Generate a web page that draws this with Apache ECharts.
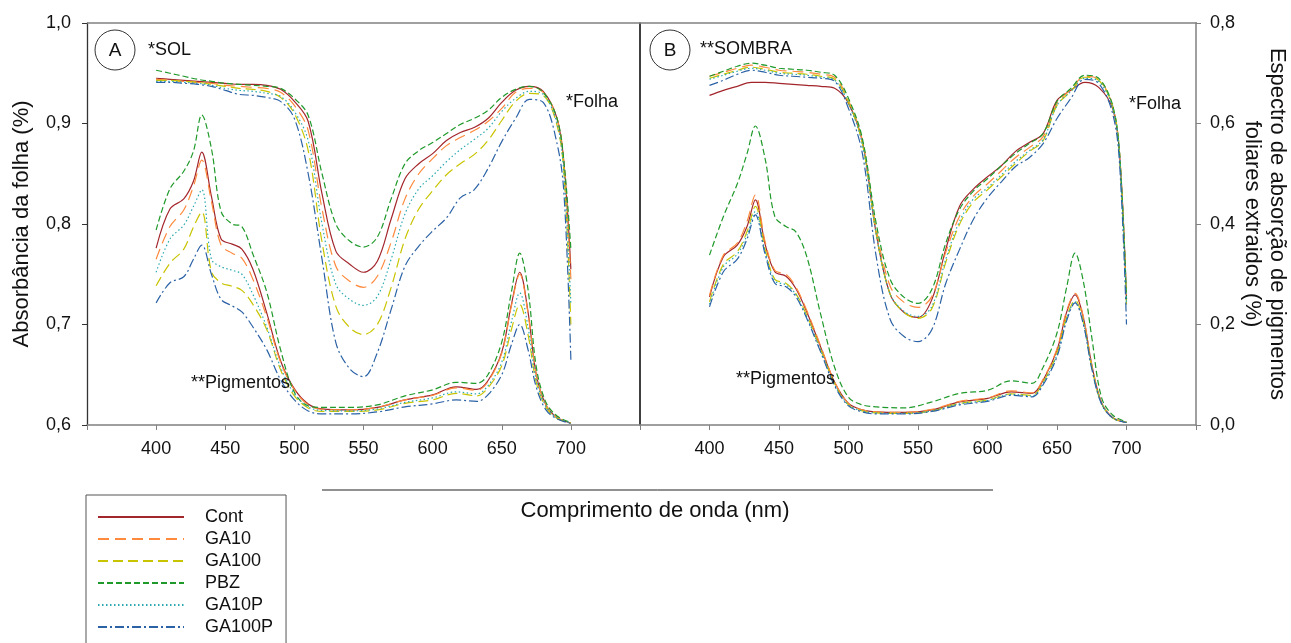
<!DOCTYPE html>
<html>
<head>
<meta charset="utf-8">
<script src="https://cdn.jsdelivr.net/npm/echarts@6/dist/echarts.min.js"></script>
<style>
html,body{margin:0;padding:0;background:#fff;}
#chart{width:1291px;height:643px;}
</style>
</head>
<body>
<div id="chart"></div>
<script>
// ---------- DATA ----------
const names = ['Cont','GA10','GA100','PBZ','GA10P','GA100P'];
const wlLeaf = [400,410,420,430,440,450,460,470,480,490,500,510,520,530,540,550,560,570,580,590,600,610,620,630,640,650,660,670,680,690,695,700];
const wlPig  = [400,410,420,427,433,440,447,455,462,470,480,490,500,510,520,540,560,580,600,617,632,640,650,657,663,669,675,682,690,700];

// Panel A (*SOL) – leaf absorbance (left axis, 0.6–1.0)
const solLeafCont   = [.945,.944,.943,.942,.941,.940,.939,.939,.938,.934,.922,.902,.830,.773,.760,.752,.763,.805,.845,.860,.870,.883,.891,.896,.905,.921,.933,.937,.932,.905,.860,.755];
const solLeafGA10   = [.944,.943,.942,.941,.940,.938,.937,.936,.935,.931,.918,.893,.815,.758,.743,.737,.748,.782,.825,.850,.865,.878,.886,.893,.902,.915,.931,.935,.931,.905,.860,.745];
const solLeafGA100  = [.943,.943,.942,.941,.939,.937,.935,.934,.932,.926,.910,.873,.782,.718,.697,.690,.700,.737,.785,.815,.833,.849,.860,.869,.883,.903,.922,.930,.928,.898,.850,.700];
const solLeafPBZ    = [.953,.950,.947,.944,.942,.940,.939,.938,.937,.935,.925,.908,.850,.800,.783,.777,.787,.825,.860,.873,.881,.890,.899,.905,.913,.926,.934,.937,.931,.905,.862,.775];
const solLeafGA10P  = [.942,.942,.941,.940,.938,.935,.933,.932,.930,.927,.912,.883,.800,.740,.725,.719,.728,.765,.810,.835,.848,.862,.874,.884,.895,.912,.925,.932,.929,.900,.850,.720];
const solLeafGA100P = [.941,.941,.940,.939,.937,.933,.929,.928,.926,.922,.905,.850,.765,.682,.656,.648,.672,.715,.758,.778,.793,.806,.826,.834,.855,.882,.905,.924,.921,.880,.830,.665];

// Panel A (*SOL) – extracted pigments (right axis, 0–0.8)
const solPigCont   = [.352,.430,.450,.485,.543,.455,.370,.360,.350,.310,.223,.128,.072,.042,.032,.030,.035,.050,.060,.076,.071,.088,.145,.240,.304,.225,.100,.040,.015,.004];
const solPigGA10   = [.330,.395,.428,.475,.527,.445,.358,.342,.332,.290,.215,.125,.070,.040,.031,.030,.035,.050,.059,.074,.069,.086,.143,.237,.300,.222,.100,.040,.015,.004];
const solPigGA100  = [.277,.322,.350,.394,.424,.305,.283,.276,.268,.240,.190,.110,.058,.034,.027,.027,.030,.043,.050,.063,.058,.074,.118,.190,.240,.180,.085,.035,.013,.004];
const solPigPBZ    = [.388,.470,.505,.545,.617,.550,.425,.400,.395,.340,.265,.150,.065,.038,.035,.035,.040,.058,.070,.085,.083,.100,.165,.265,.342,.270,.115,.045,.018,.005];
const solPigGA10P  = [.304,.370,.398,.435,.468,.330,.315,.308,.300,.260,.195,.115,.062,.036,.029,.028,.032,.045,.054,.066,.062,.078,.125,.205,.263,.195,.090,.037,.014,.004];
const solPigGA100P = [.243,.283,.295,.330,.358,.300,.250,.237,.225,.195,.150,.090,.050,.028,.022,.022,.026,.036,.042,.050,.047,.060,.100,.160,.200,.150,.075,.030,.012,.003];

// Panel B (**SOMBRA) – leaf absorbance (left axis scale, 0.6–1.0)
const somLeafCont   = [.928,.933,.937,.941,.941,.940,.939,.938,.937,.935,.920,.882,.790,.730,.712,.707,.725,.775,.818,.835,.847,.858,.872,.881,.890,.923,.933,.941,.936,.915,.870,.725];
const somLeafGA10   = [.947,.951,.955,.958,.956,.953,.952,.951,.949,.946,.923,.883,.795,.738,.722,.717,.728,.772,.808,.828,.840,.853,.866,.876,.887,.920,.934,.947,.944,.918,.870,.725];
const somLeafGA100  = [.945,.949,.953,.956,.954,.951,.950,.949,.947,.944,.921,.880,.790,.730,.712,.706,.716,.762,.800,.822,.834,.847,.860,.872,.883,.918,.932,.946,.943,.917,.870,.720];
const somLeafPBZ    = [.947,.952,.957,.960,.958,.955,.954,.953,.951,.948,.925,.885,.800,.745,.727,.721,.735,.781,.815,.833,.845,.858,.870,.880,.890,.922,.935,.948,.945,.918,.870,.725];
const somLeafGA10P  = [.944,.948,.952,.955,.953,.950,.949,.948,.946,.943,.920,.879,.790,.730,.713,.708,.718,.765,.803,.825,.836,.849,.862,.873,.884,.918,.932,.945,.942,.916,.870,.720];
const somLeafGA100P = [.938,.943,.949,.953,.951,.948,.947,.946,.945,.942,.915,.870,.767,.705,.688,.683,.695,.741,.775,.805,.826,.842,.857,.866,.880,.905,.925,.944,.940,.910,.860,.700];

// Panel B (**SOMBRA) – extracted pigments (right axis, 0–0.8)
const somPigCont   = [.255,.335,.358,.395,.448,.360,.305,.296,.272,.225,.155,.085,.043,.030,.026,.025,.030,.046,.053,.066,.063,.089,.149,.225,.259,.213,.120,.045,.015,.005];
const somPigGA10   = [.258,.338,.362,.405,.458,.365,.308,.300,.275,.228,.157,.086,.043,.030,.026,.025,.031,.047,.054,.068,.064,.091,.152,.228,.262,.215,.120,.045,.015,.005];
const somPigGA100  = [.245,.320,.345,.385,.435,.350,.290,.282,.262,.218,.150,.082,.040,.028,.024,.023,.028,.043,.050,.062,.059,.085,.143,.215,.248,.205,.115,.043,.014,.005];
const somPigPBZ    = [.338,.415,.480,.540,.595,.530,.415,.395,.385,.335,.220,.115,.055,.040,.036,.034,.046,.063,.069,.088,.083,.115,.183,.275,.342,.285,.175,.055,.020,.006];
const somPigGA10P  = [.240,.315,.340,.378,.425,.345,.287,.279,.260,.215,.148,.080,.040,.028,.024,.023,.028,.042,.049,.061,.058,.083,.140,.212,.245,.203,.114,.043,.014,.005];
const somPigGA100P = [.235,.305,.330,.370,.418,.340,.282,.275,.256,.212,.145,.078,.038,.026,.022,.022,.027,.040,.047,.059,.056,.080,.136,.208,.243,.200,.112,.042,.014,.005];

const xTicks = [400,450,500,550,600,650,700];
const yLeftTicks = [0.6,0.7,0.8,0.9,1.0];
const yRightTicks = [0.0,0.2,0.4,0.6,0.8];

// ---------- STYLES ----------
const styles = {
  'Cont':   {color:'#a3262c', type:'solid'},
  'GA10':   {color:'#ff8a3d', type:[11,6]},
  'GA100':  {color:'#c9c400', type:[10,5]},
  'PBZ':    {color:'#1f9a2a', type:[6,3]},
  'GA10P':  {color:'#2aa9b0', type:[1.5,2.5]},
  'GA100P': {color:'#2b62a6', type:[9,3,2,3]}
};

const FONT = 'Liberation Sans, Arial, sans-serif';

function mk(name, wl, vals, xi, yi) {
  const s = styles[name];
  return {
    name: name, type: 'line', xAxisIndex: xi, yAxisIndex: yi,
    data: wl.map((w, i) => [w, vals[i]]),
    symbol: 'none', showSymbol: false, smooth: 0.35, silent: true, animation: false,
    lineStyle: {color: s.color, width: 1.2, type: s.type},
    itemStyle: {color: s.color},
    z: 3
  };
}

const sets = [
  [solLeafCont, solLeafGA10, solLeafGA100, solLeafPBZ, solLeafGA10P, solLeafGA100P, wlLeaf, 0, 0],
  [solPigCont, solPigGA10, solPigGA100, solPigPBZ, solPigGA10P, solPigGA100P, wlPig, 0, 1],
  [somLeafCont, somLeafGA10, somLeafGA100, somLeafPBZ, somLeafGA10P, somLeafGA100P, wlLeaf, 1, 3],
  [somPigCont, somPigGA10, somPigGA100, somPigPBZ, somPigGA10P, somPigGA100P, wlPig, 1, 2]
];
const series = [];
sets.forEach(st => {
  for (let k = 0; k < 6; k++) series.push(mk(names[k], st[6], st[k], st[7], st[8]));
});

const comma = v => v.toFixed(1).replace('.', ',');
const xLab = v => xTicks.indexOf(v) >= 0 ? String(v) : '';

function xAxisDef(gi) {
  return {
    type: 'value', gridIndex: gi, min: 350, max: 750, interval: 50,
    axisLine: {show: true, lineStyle: {color: '#808080', width: 1.5}},
    axisTick: {show: true, length: 5, lineStyle: {color: '#808080'}},
    axisLabel: {formatter: xLab, color: '#111', fontSize: 18, fontFamily: FONT, margin: 15},
    splitLine: {show: false}
  };
}

const option = {
  animation: false,
  backgroundColor: '#fff',
  grid: [
    {left: 87, top: 23, width: 553, height: 402},
    {left: 640, top: 23, width: 557, height: 402}
  ],
  xAxis: [xAxisDef(0), xAxisDef(1)],
  yAxis: [
    { // left axis: leaf absorbance
      type: 'value', gridIndex: 0, position: 'left', min: 0.6, max: 1.0, interval: 0.1,
      axisLine: {show: true, lineStyle: {color: '#333', width: 1.3}},
      axisTick: {show: true, length: 5, lineStyle: {color: '#333'}},
      axisLabel: {formatter: comma, color: '#111', fontSize: 18, fontFamily: FONT, margin: 16},
      splitLine: {show: false},
      name: 'Absorbância da folha (%)', nameLocation: 'middle', nameGap: 54, nameMoveOverlap: false,
      nameTextStyle: {fontSize: 22, color: '#111', fontFamily: FONT}
    },
    { // hidden pigment scale for panel A (draws divider)
      type: 'value', gridIndex: 0, position: 'right', min: 0, max: 0.8, interval: 0.2,
      axisLine: {show: true, lineStyle: {color: '#000', width: 1.5}},
      axisTick: {show: false}, axisLabel: {show: false}, splitLine: {show: false}
    },
    { // right axis: pigments
      type: 'value', gridIndex: 1, position: 'right', min: 0, max: 0.8, interval: 0.2,
      axisLine: {show: true, lineStyle: {color: '#808080', width: 1.5}},
      axisTick: {show: true, length: 5, lineStyle: {color: '#808080'}},
      axisLabel: {formatter: comma, color: '#111', fontSize: 18, fontFamily: FONT, margin: 14},
      splitLine: {show: false},
      name: 'Espectro de absorção de pigmentos\nfoliares extraidos (%)', nameLocation: 'middle', nameGap: 44,
      nameRotate: -90, nameMoveOverlap: false,
      nameTextStyle: {fontSize: 22, color: '#111', fontFamily: FONT, lineHeight: 25}
    },
    { // hidden leaf scale for panel B
      type: 'value', gridIndex: 1, position: 'left', min: 0.6, max: 1.0, interval: 0.1,
      axisLine: {show: false}, axisTick: {show: false}, axisLabel: {show: false}, splitLine: {show: false}
    }
  ],
  legend: {
    data: names, orient: 'vertical', left: 86, top: 495, height: 170,
    itemWidth: 86, itemHeight: 14, itemGap: 4,
    padding: [13, 13, 30, 11],
    borderColor: '#555', borderWidth: 1,
    selectedMode: false,
    itemStyle: {opacity: 0, borderWidth: 0},
    textStyle: {fontSize: 18, color: '#111', fontFamily: FONT, padding: [0, 0, 0, 16]}
  },
  graphic: [
    {type: 'line', shape: {x1: 87, y1: 23, x2: 1197, y2: 23}, style: {stroke: '#808080', lineWidth: 1.5}, z: 10},
    {type: 'line', shape: {x1: 322, y1: 490, x2: 993, y2: 490}, style: {stroke: '#222', lineWidth: 1}},
    {type: 'circle', shape: {cx: 115, cy: 50, r: 20}, style: {fill: 'none', stroke: '#333', lineWidth: 1}},
    {type: 'text', x: 115, y: 51, style: {text: 'A', fontSize: 19, fontFamily: FONT, fill: '#111', align: 'center', verticalAlign: 'middle'}},
    {type: 'text', x: 148, y: 50, style: {text: '*SOL', fontSize: 18, fontFamily: FONT, fill: '#111', verticalAlign: 'middle'}},
    {type: 'circle', shape: {cx: 670, cy: 50, r: 20}, style: {fill: 'none', stroke: '#333', lineWidth: 1}},
    {type: 'text', x: 670, y: 51, style: {text: 'B', fontSize: 19, fontFamily: FONT, fill: '#111', align: 'center', verticalAlign: 'middle'}},
    {type: 'text', x: 700, y: 49, style: {text: '**SOMBRA', fontSize: 18, fontFamily: FONT, fill: '#111', verticalAlign: 'middle'}},
    {type: 'text', x: 566, y: 102, style: {text: '*Folha', fontSize: 18, fontFamily: FONT, fill: '#111', verticalAlign: 'middle'}},
    {type: 'text', x: 1129, y: 104, style: {text: '*Folha', fontSize: 18, fontFamily: FONT, fill: '#111', verticalAlign: 'middle'}},
    {type: 'text', x: 191, y: 383, style: {text: '**Pigmentos', fontSize: 18, fontFamily: FONT, fill: '#111', verticalAlign: 'middle'}, z: 5},
    {type: 'text', x: 736, y: 379, style: {text: '**Pigmentos', fontSize: 18, fontFamily: FONT, fill: '#111', verticalAlign: 'middle'}, z: 5},
    {type: 'text', x: 655, y: 511, style: {text: 'Comprimento de onda (nm)', fontSize: 22, fontFamily: FONT, fill: '#111', align: 'center', verticalAlign: 'middle'}}
  ],
  series: series
};

const chart = echarts.init(document.getElementById('chart'), null, {renderer: 'canvas'});
chart.setOption(option);
</script>
</body>
</html>
